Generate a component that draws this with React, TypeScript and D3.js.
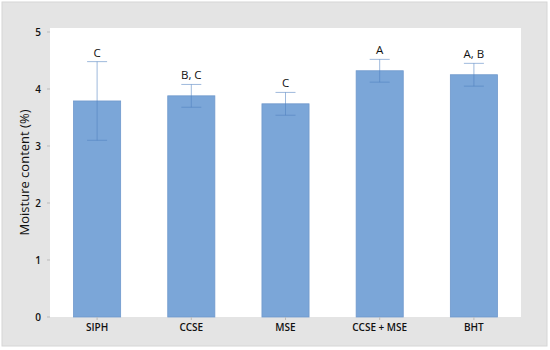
import React from 'react';
import * as d3 from 'd3';

// Moisture content per treatment, with error bars and significance letters
const categories = ['SIPH', 'CCSE', 'MSE', 'CCSE + MSE', 'BHT'];
const means = [3.79, 3.88, 3.74, 4.32, 4.25];
const errors = [0.69, 0.2, 0.2, 0.2, 0.2];
const letters = ['C', 'B, C', 'C', 'A', 'A, B'];
const yTicks = [0, 1, 2, 3, 4, 5];

const width = 550;
const height = 350;
const margin = { top: 28, right: 29, bottom: 33, left: 50 };

const colors = {
    frame: '#e4e4e4',
    plot: '#ffffff',
    bar: '#7ba6d8',
    barEdge: '#6f98cc',
    err: '#4f7fbf',
    text: '#111111'
};

const font = '"Open Sans", "Noto Sans", sans-serif';

const App = () => {
    const x = d3.scaleBand()
        .domain(categories)
        .range([margin.left, width - margin.right])
        .paddingInner(0.5)
        .paddingOuter(0.25);

    const y = d3.scaleLinear()
        .domain([0, 5])
        .range([317, 32]);

    const plotBottom = y(0);
    const capHalf = 10;

    return (
        <svg width={width} height={height} style={{ display: 'block', position: 'absolute', left: 0, top: 0 }}>
            <rect x={0} y={0} width={width} height={height} fill="#fff" />
            <rect x={2} y={2} width={545} height={344} fill={colors.frame} stroke="#d6d6d6" strokeWidth={1} />
            <rect x={margin.left} y={margin.top} width={width - margin.right - margin.left} height={plotBottom - margin.top} fill={colors.plot} />

            {/* y axis ticks */}
            {yTicks.map(t => (
                <g key={t}>
                    <line x1={margin.left - 3} x2={margin.left} y1={y(t)} y2={y(t)} stroke="#bbb" />
                    <text x={41} y={y(t)} dy="0.35em" textAnchor="end" fontFamily={font} fontSize={10} fontWeight={600} fill={colors.text}>{t}</text>
                </g>
            ))}

            <text
                transform={`translate(29,${(margin.top + plotBottom) / 2}) rotate(-90)`}
                textAnchor="middle"
                fontFamily={font}
                fontSize={13}
                fill={colors.text}
            >
                Moisture content (%)
            </text>

            {/* bars */}
            {categories.map((c, i) => {
                const bx = x(c) as number;
                const bw = x.bandwidth();
                const cx = bx + bw / 2;
                const hi = y(means[i] + errors[i]);
                const lo = y(means[i] - errors[i]);
                return (
                    <g key={c}>
                        <rect x={bx} y={y(means[i])} width={bw} height={plotBottom - y(means[i])} fill={colors.bar} stroke={colors.barEdge} strokeWidth={0.8} />
                        <g stroke={colors.err} strokeOpacity={0.55} strokeWidth={1}>
                            <line x1={cx} x2={cx} y1={hi} y2={lo} />
                            <line x1={cx - capHalf} x2={cx + capHalf} y1={hi} y2={hi} />
                            <line x1={cx - capHalf} x2={cx + capHalf} y1={lo} y2={lo} />
                        </g>
                        <text x={cx} y={hi - 5} textAnchor="middle" fontFamily={font} fontSize={11.5} fill={colors.text}>{letters[i]}</text>
                        <line x1={cx} x2={cx} y1={plotBottom} y2={plotBottom + 3} stroke="#bbb" />
                        <text x={cx} y={plotBottom + 14} textAnchor="middle" fontFamily={font} fontSize={10} fontWeight={600} fill={colors.text}>{c}</text>
                    </g>
                );
            })}
        </svg>
    );
};

export default App;
